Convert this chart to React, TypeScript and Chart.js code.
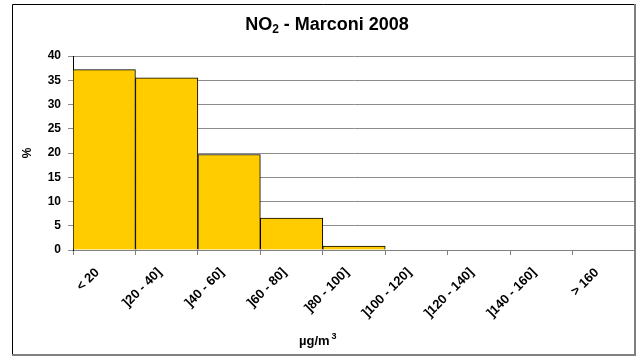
import React, { useEffect, useRef } from "react";
import { Chart, registerables } from "chart.js";

Chart.register(...registerables);

const categories = ["< 20", "]20 - 40]", "]40 - 60]", "]60 - 80]", "]80 - 100]", "]100 - 120]", "]120 - 140]", "]140 - 160]", "> 160"];
const percentages = [37.2, 35.5, 19.7, 6.6, 0.8, 0, 0, 0, 0];
const yMin = 0;
const yMax = 40;
const yStep = 5;
const titleMain = "NO";
const titleSub = "2";
const titleRest = " - Marconi 2008";
const xAxisTitleMain = "µg/m";
const xAxisTitleSup = "3";
const yAxisTitle = "%";

const FONT = "'Liberation Sans', Arial, sans-serif";

const framePlugin = {
  id: "frameAndTitle",
  beforeDraw(chart: any) {
    const ctx = chart.ctx;
    ctx.save();
    ctx.fillStyle = "#ffffff";
    ctx.fillRect(0, 0, chart.width, chart.height);
    ctx.restore();
  },
  afterDraw(chart: any) {
    const ctx = chart.ctx;
    const W = chart.width;
    const H = chart.height;
    ctx.save();
    ctx.lineWidth = 1;
    ctx.strokeStyle = "#000000";
    ctx.beginPath();
    ctx.moveTo(12.5, H - 1);
    ctx.lineTo(12.5, 4.5);
    ctx.lineTo(W - 1, 4.5);
    ctx.stroke();
    ctx.strokeStyle = "#808080";
    ctx.lineWidth = 2;
    ctx.beginPath();
    ctx.moveTo(W - 1, 4);
    ctx.lineTo(W - 1, H - 1);
    ctx.lineTo(12, H - 1);
    ctx.stroke();

    // title with subscript
    const big = `bold 18px ${FONT}`;
    const small = `bold 12px ${FONT}`;
    ctx.font = big;
    const w1 = ctx.measureText(titleMain).width;
    const w3 = ctx.measureText(titleRest).width;
    ctx.font = small;
    const w2 = ctx.measureText(titleSub).width;
    const total = w1 + w2 + w3;
    const cx = 327;
    const baseY = 30;
    let x = cx - total / 2;
    ctx.fillStyle = "#000000";
    ctx.textBaseline = "alphabetic";
    ctx.textAlign = "left";
    ctx.font = big;
    ctx.fillText(titleMain, x, baseY);
    x += w1;
    ctx.font = small;
    ctx.fillText(titleSub, x, baseY + 3);
    x += w2;
    ctx.font = big;
    ctx.fillText(titleRest, x, baseY);

    // x axis title with superscript
    const xt = `bold 13px ${FONT}`;
    const xs = `bold 9px ${FONT}`;
    ctx.font = xt;
    const a1 = ctx.measureText(xAxisTitleMain).width;
    ctx.font = xs;
    const a2 = ctx.measureText(xAxisTitleSup).width;
    let tx = 299;
    ctx.font = xt;
    ctx.fillText(xAxisTitleMain, tx, 345);
    tx += a1 + 2;
    ctx.font = xs;
    ctx.fillText(xAxisTitleSup, tx, 339);
    void a2;
    ctx.restore();
  },
};

export default function App() {
  const ref = useRef<HTMLCanvasElement | null>(null);

  useEffect(() => {
    document.body.style.margin = "0";
    const canvas = ref.current;
    if (!canvas) return;
    const chart = new Chart(canvas, {
      type: "bar",
      data: {
        labels: categories,
        datasets: [
          {
            data: percentages,
            backgroundColor: "#FFCC00",
            borderColor: "#000000",
            borderWidth: 1,
            barPercentage: 1,
            categoryPercentage: 1,
          },
        ],
      },
      options: {
        animation: false,
        responsive: false,
        maintainAspectRatio: false,
        layout: { padding: { top: 56, left: 12, right: 1, bottom: 3 } },
        plugins: {
          legend: { display: false },
          tooltip: { enabled: false },
          title: { display: false },
        },
        scales: {
          x: {
            offset: true,
            grid: {
              offset: true,
              drawOnChartArea: false,
              drawTicks: true,
              tickLength: 5,
              color: "#808080",
            },
            border: { color: "#808080", width: 1 },
            ticks: {
              autoSkip: false,
              maxRotation: 45,
              minRotation: 45,
              padding: 10,
              labelOffset: -7,
              color: "#000000",
              font: { family: FONT, size: 13, weight: "bold" },
            },
            afterFit(scale: any) {
              scale.height = 356 - 250 - 3;
            },
          },
          y: {
            min: yMin,
            max: yMax,
            grid: {
              color: "#8c8c8c",
              tickLength: 5,
              drawTicks: true,
            },
            border: { color: "#000000", width: 1 },
            ticks: {
              stepSize: yStep,
              padding: 7,
              color: "#000000",
              font: { family: FONT, size: 12, weight: "bold" },
            },
            title: {
              display: true,
              text: yAxisTitle,
              color: "#000000",
              font: { family: FONT, size: 12, weight: "bold" },
              padding: { top: 8, bottom: 0 },
            },
            afterFit(scale: any) {
              scale.width = 61;
            },
          },
        },
      },
      plugins: [framePlugin],
    });
    return () => chart.destroy();
  }, []);

  return <canvas ref={ref} width={636} height={356} style={{ display: "block" }} />;
}
